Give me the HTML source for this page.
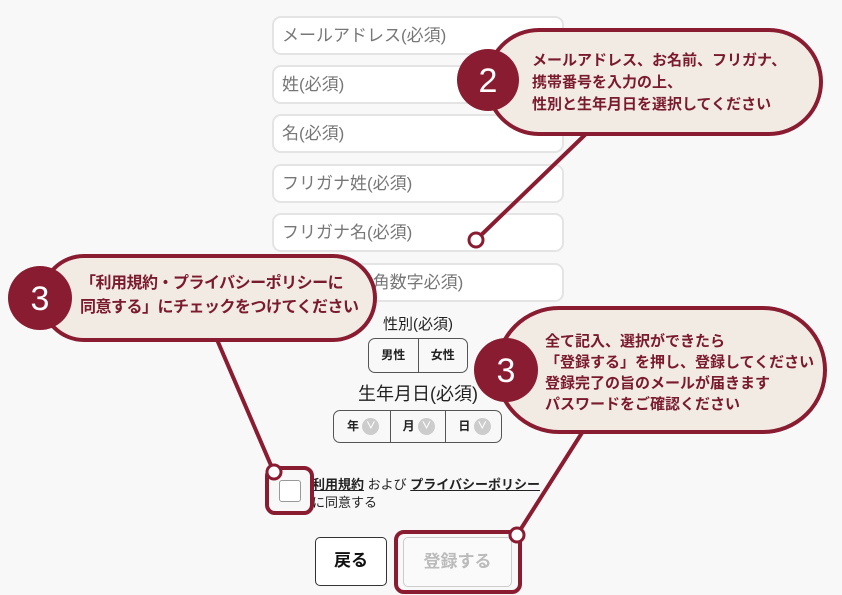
<!DOCTYPE html>
<html><head><meta charset="utf-8"><style>
body{margin:0;width:842px;height:595px;background:#f8f8f8;position:relative;overflow:hidden;font-family:"Liberation Sans","Noto Sans CJK JP",sans-serif}
.inp{position:absolute;left:272px;width:292px;height:39px;background:#fff;border:2px solid #e4e4e4;border-radius:9px;box-sizing:border-box;font-size:17px;color:#777;padding:8px 8px;line-height:20px}
.abs{position:absolute}
.ct{position:absolute;color:#7a1a2e;font-weight:bold;white-space:nowrap}
.ch{display:inline-block;width:17px;height:17px;border-radius:50%;background:#ccc;vertical-align:middle;color:#fff;font-size:10px;line-height:17px;text-align:center}
</style></head><body>
<div class="inp" style="top:16px">メールアドレス(必須)</div>
<div class="inp" style="top:65px">姓(必須)</div>
<div class="inp" style="top:114px">名(必須)</div>
<div class="inp" style="top:164px">フリガナ姓(必須)</div>
<div class="inp" style="top:213px">フリガナ名(必須)</div>
<div class="inp" style="top:263px">携帯番号(半角数字必須)</div>

<div class="abs" style="left:368px;top:313px;width:100px;text-align:center;font-size:15px;color:#222">性別(必須)</div>
<div class="abs" style="left:368px;top:338px;width:100px;height:35px;border:1.5px solid #555;border-radius:7px;box-sizing:border-box;display:flex;font-size:12px;font-weight:bold;color:#222">
<div style="flex:1;border-right:1.5px solid #555;text-align:center;line-height:32px">男性</div><div style="flex:1;text-align:center;line-height:32px">女性</div></div>
<div class="abs" style="left:340px;top:380px;width:156px;text-align:center;font-size:18px;color:#222">生年月日(必須)</div>
<div class="abs" style="left:333px;top:410px;width:169px;height:33px;border:1.5px solid #555;border-radius:7px;box-sizing:border-box;display:flex;font-size:12px;font-weight:bold;color:#222">
<div style="flex:1;border-right:1.5px solid #555;line-height:30px;padding-left:13px">年 <span class="ch">∨</span></div>
<div style="flex:1;border-right:1.5px solid #555;line-height:30px;padding-left:12px">月 <span class="ch">∨</span></div>
<div style="flex:1;line-height:30px;padding-left:12px">日 <span class="ch">∨</span></div></div>

<div class="abs" style="left:279px;top:480px;width:22px;height:22px;border:1.5px solid #999;border-radius:3px;background:#fff;box-sizing:border-box"></div>
<div class="abs" style="left:312px;top:474px;font-size:13px;color:#222;white-space:nowrap"><b style="text-decoration:underline">利用規約</b> および <b style="text-decoration:underline">プライバシーポリシー</b></div>
<div class="abs" style="left:312px;top:492px;font-size:13px;color:#222">に同意する</div>

<div class="abs" style="left:315px;top:537px;width:72px;height:49px;border:1.5px solid #333;border-radius:5px;background:#fff;box-sizing:border-box;text-align:center;line-height:46px;font-size:17px;font-weight:bold;color:#111">戻る</div>
<div class="abs" style="left:403px;top:537px;width:109px;height:50px;border:1.5px solid #ccc;border-radius:5px;background:#fafafa;box-sizing:border-box;text-align:center;line-height:47px;font-size:17px;font-weight:bold;color:#bbb">登録する</div>

<svg class="abs" style="left:0;top:0" width="842" height="595">
<g stroke="#8a1c32" stroke-width="4" fill="none">
<line x1="590" y1="130" x2="476" y2="240"/>
<line x1="215" y1="335" x2="273" y2="470"/>
<line x1="585" y1="428" x2="517" y2="535"/>
<rect x="267" y="468" width="45" height="45" rx="8"/>
<rect x="396" y="532" width="124" height="60" rx="8"/>
</g>
<g fill="#f2ebe3" stroke="#8a1c32" stroke-width="4">
<rect x="487" y="30" width="334" height="104" rx="52"/>
<rect x="42" y="256" width="333" height="84" rx="42"/>
<rect x="497" y="308" width="328" height="124" rx="62"/>
</g>
<g fill="#8a1c32">
<circle cx="488" cy="80" r="31"/>
<circle cx="40" cy="298" r="32"/>
<circle cx="506" cy="370" r="32"/>
</g>
<g fill="#fff" stroke="#8a1c32" stroke-width="3">
<circle cx="476" cy="240" r="7"/>
<circle cx="274" cy="472" r="7"/>
<circle cx="517" cy="535" r="7"/>
</g>
<g fill="#fff" font-family="Liberation Sans,sans-serif" font-size="34" text-anchor="middle">
<text x="488" y="92">2</text><text x="40" y="310">3</text><text x="506" y="382">3</text>
</g>
</svg>
<div class="ct" style="left:532px;top:50px;font-size:15px;line-height:22px">メールアドレス、お名前、フリガナ、<br>携帯番号を入力の上、<br>性別と生年月日を選択してください</div>
<div class="ct" style="left:80px;top:272px;font-size:16px;line-height:24px;letter-spacing:-0.5px">「利用規約・プライバシーポリシーに<br>同意する」にチェックをつけてください</div>
<div class="ct" style="left:545px;top:331px;font-size:15px;line-height:21px">全て記入、選択ができたら<br>「登録する」を押し、登録してください<br>登録完了の旨のメールが届きます<br>パスワードをご確認ください</div>
</body></html>
